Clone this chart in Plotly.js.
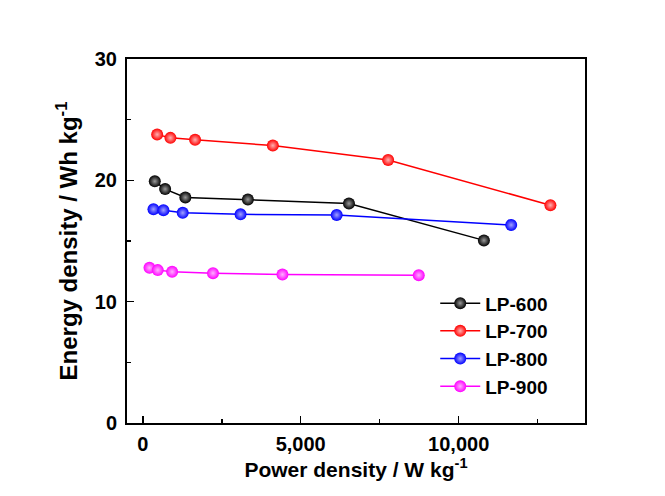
<!DOCTYPE html>
<html>
<head>
<meta charset="utf-8">
<script src="https://cdn.plot.ly/plotly-3.0.1.min.js"></script>
<style>html,body{margin:0;padding:0;background:#fff;}#chart{width:665px;height:496px;}</style>
</head>
<body>
<div id="chart"></div>
<script>
const seriesNames = ["LP-600", "LP-700", "LP-800", "LP-900"];
const seriesColors = ["#000000", "#ff0000", "#0000ff", "#ff00ff"];
const highlightColors = ["#9a9a9a", "#ffb0b0", "#a0a0ff", "#ffb0ff"];
const lp600X = [380, 707, 1348, 3327, 6527, 10800];
const lp600Y = [19.92, 19.28, 18.59, 18.42, 18.09, 15.05];
const lp700X = [455, 875, 1655, 4117, 7768, 12905];
const lp700Y = [23.78, 23.5, 23.34, 22.87, 21.68, 17.95];
const lp800X = [338, 654, 1264, 3095, 6138, 11664];
const lp800Y = [17.62, 17.54, 17.32, 17.2, 17.15, 16.32];
const lp900X = [212, 474, 928, 2222, 4421, 8737];
const lp900Y = [12.79, 12.6, 12.46, 12.35, 12.24, 12.18];
const xTickVals = [0, 5000, 10000];
const xTickText = ["0", "5,000", "10,000"];
const xMinorVals = [2500, 7500, 12500];
const yTickVals = [0, 10, 20, 30];
const yMinorVals = [5, 15, 25];

const xs = [lp600X, lp700X, lp800X, lp900X];
const ys = [lp600Y, lp700Y, lp800Y, lp900Y];
const FONT = "Arial, 'Liberation Sans', sans-serif";

const traces = seriesNames.map((n, i) => ({
  type: "scatter",
  mode: "lines+markers",
  name: n,
  x: xs[i],
  y: ys[i],
  line: {color: seriesColors[i], width: 1.5},
  marker: {
    color: seriesColors[i],
    size: 12,
    line: {width: 0},
    gradient: {type: "radial", color: highlightColors[i]}
  }
}));

const layout = {
  width: 665, height: 496,
  margin: {l: 127, r: 80, t: 59, b: 73},
  paper_bgcolor: "#ffffff",
  plot_bgcolor: "#ffffff",
  font: {family: FONT, color: "#000", size: 19},
  showlegend: true,
  legend: {
    x: 0.673, y: 0.381, xanchor: "left", yanchor: "top",
    font: {family: FONT, size: 19, weight: "bold", color: "#000"},
    bgcolor: "rgba(0,0,0,0)",
    itemwidth: 40
  },
  xaxis: {
    range: [-500, 14000],
    tickmode: "array",
    tickvals: xTickVals,
    ticktext: xTickText,
    ticks: "inside",
    ticklen: 7,
    tickwidth: 1.5,
    tickcolor: "#000",
    minor: {tickvals: xMinorVals, ticks: "inside", ticklen: 4, tickwidth: 1.5, tickcolor: "#000"},
    showline: true, linecolor: "#000", linewidth: 2, mirror: true,
    showgrid: false, zeroline: false,
    ticklabelstandoff: 2,
    tickfont: {family: FONT, size: 20, weight: "bold"},
    title: {text: "Power density / W kg<sup>-1</sup>", font: {family: FONT, size: 21, weight: "bold"}, standoff: 8}
  },
  yaxis: {
    range: [0, 30],
    tickmode: "array",
    tickvals: yTickVals,
    ticks: "inside",
    ticklen: 7,
    tickwidth: 1.5,
    tickcolor: "#000",
    minor: {tickvals: yMinorVals, ticks: "inside", ticklen: 4, tickwidth: 1.5, tickcolor: "#000"},
    showline: true, linecolor: "#000", linewidth: 2, mirror: true,
    showgrid: false, zeroline: false,
    ticklabelstandoff: 4,
    tickfont: {family: FONT, size: 20, weight: "bold"},
    title: {text: "Energy density / Wh kg<sup>-1</sup>", font: {family: FONT, size: 24, weight: "bold"}, standoff: 10}
  }
};

Plotly.newPlot("chart", traces, layout, {displayModeBar: false, staticPlot: true});
</script>
</body>
</html>
